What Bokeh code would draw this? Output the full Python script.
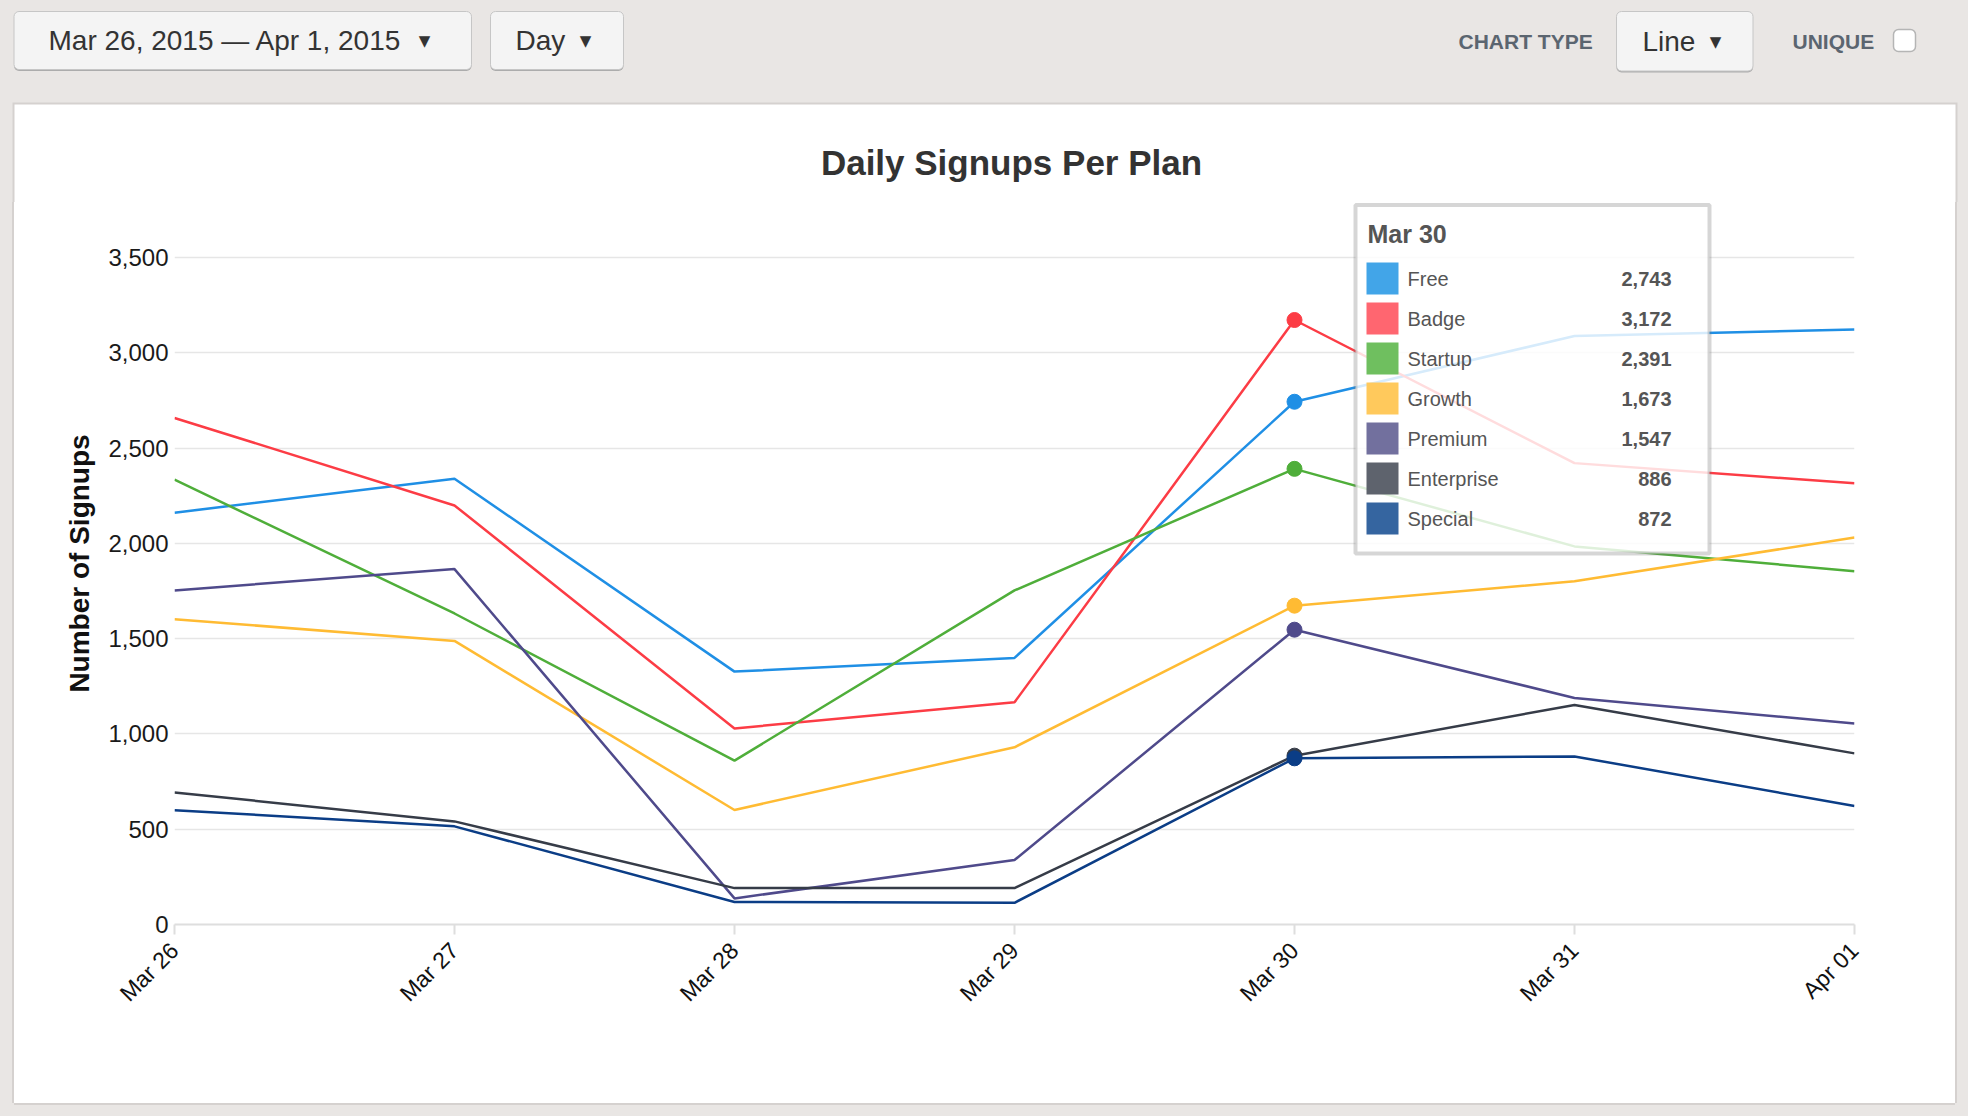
import math
from bokeh.plotting import figure
from bokeh.models import Range1d, FixedTicker, NumeralTickFormatter, BoxAnnotation, Label, ColumnDataSource
from bokeh.embed import file_html
from bokeh.resources import INLINE
from bokeh.core.properties import value

# ---------------- data ----------------
dates = ["Mar 26", "Mar 27", "Mar 28", "Mar 29", "Mar 30", "Mar 31", "Apr 01"]
plans = ["Free", "Badge", "Startup", "Growth", "Premium", "Enterprise", "Special"]
free = [2161, 2339, 1327, 1399, 2743, 3088, 3122]
badge = [2658, 2199, 1029, 1166, 3172, 2421, 2315]
startup = [2334, 1632, 860, 1753, 2391, 1984, 1854]
growth = [1602, 1488, 601, 930, 1673, 1801, 2031]
premium = [1753, 1865, 137, 338, 1547, 1189, 1055]
enterprise = [693, 541, 191, 191, 886, 1152, 898]
special = [600, 515, 118, 114, 872, 882, 622]
series = [free, badge, startup, growth, premium, enterprise, special]
y_ticks = [0, 500, 1000, 1500, 2000, 2500, 3000, 3500]
hover_index = 4  # Mar 30

colors = ["#1f8fe5", "#fc3c45", "#4fae3a", "#ffbb33", "#4f4a8b", "#363c48", "#0b3d86"]
swatch_colors = ["#42a5e8", "#ff6670", "#6fbf5f", "#ffc95c", "#72709e", "#5e636d", "#3565a0"]

FONT = "Liberation Sans"
PAGE_BG = "#e9e6e4"
CARD_BORDER = "#d5d1cf"

# ---------------- top: control bar + card header (page pixel coordinates) ----------------
TOP_H = 202
top = figure(width=1968, height=TOP_H, x_range=Range1d(0, 1968), y_range=Range1d(TOP_H, 0),
             toolbar_location=None, output_backend="svg", title=None,
             x_axis_location=None, y_axis_location=None, min_border=0)
top.grid.visible = False
top.outline_line_color = None
top.background_fill_color = PAGE_BG
top.border_fill_color = PAGE_BG

# card header part (white, with border on top/left/right)
top.quad(left=[12], right=[1957], top=[102], bottom=[TOP_H + 2], fill_color=CARD_BORDER, line_color=None)
top.quad(left=[14], right=[1955], top=[104], bottom=[TOP_H + 2], fill_color="#ffffff", line_color=None)

btn_l = [13.5, 490, 1616]
btn_r = [471, 623, 1752.5]
btn_t = [11, 11, 11]
btn_b = [69, 69, 70.5]
top.quad(left=btn_l, right=btn_r, top=[t + 1.5 for t in btn_t], bottom=[b + 1.5 for b in btn_b],
         fill_color="#acacac", line_color=None, border_radius=5)
top.quad(left=btn_l, right=btn_r, top=btn_t, bottom=btn_b,
         fill_color="#f4f4f4", line_color="#c6c6c6", line_width=1, border_radius=5)
top.quad(left=[1893], right=[1915], top=[29], bottom=[51],
         fill_color="#ffffff", line_color="#b5b5b5", line_width=1.5, border_radius=5)

top.text(x=[48, 515, 1642], y=[40, 40, 41],
         text=["Mar 26, 2015 \u2014 Apr 1, 2015", "Day", "Line"],
         text_font=value(FONT), text_font_size="28px", text_color="#333333",
         text_baseline="middle", text_align="left")
top.text(x=[424, 585, 1715], y=[40, 40, 41], text=["\u25bc", "\u25bc", "\u25bc"],
         text_font=value("DejaVu Sans"), text_font_size="15px", text_color="#333333",
         text_baseline="middle", text_align="center")
top.text(x=[1458, 1792], y=[41, 41], text=["CHART TYPE", "UNIQUE"],
         text_font=value(FONT), text_font_size="21px", text_font_style="bold",
         text_color="#5b6570", text_baseline="middle", text_align="left")
top.text(x=[1011], y=[162], text=["Daily Signups Per Plan"],
         text_font=value(FONT), text_font_size="35px", text_font_style="bold",
         text_color="#333333", text_baseline="middle", text_align="center")

# ---------------- chart card body ----------------
FX0, FX1 = 174, 1854   # page px of Mar 26 / Apr 01
FY_TOP, FY0, FY1 = TOP_H, 257, 924   # frame top, 3500 line, 0 line
Y_END = y_ticks[-1] * (FY1 - FY_TOP) / (FY1 - FY0)

def px2x(px):
    return (px - FX0) / (FX1 - FX0) * (len(dates) - 1)

def py2y(py):
    return (FY1 - py) / (FY1 - FY0) * y_ticks[-1]

p = figure(width=1941, height=1103 - TOP_H,
           x_range=Range1d(0, len(dates) - 1), y_range=Range1d(0, Y_END),
           toolbar_location=None, output_backend="svg", title=None,
           min_border_left=160, min_border_right=101, min_border_top=0, min_border_bottom=179,
           margin=(0, 0, 0, 14))
p.styles = {"box-shadow": f"-2px 0 0 0 {CARD_BORDER}, 2px 0 0 0 {CARD_BORDER}, 0 2px 0 0 {CARD_BORDER}",
            "background-color": "#ffffff"}
p.outline_line_color = None
p.background_fill_color = "#ffffff"
p.border_fill_color = "#ffffff"

p.xgrid.visible = False
p.ygrid.grid_line_color = "#e6e6e6"
p.ygrid.grid_line_width = 1.5

p.xaxis.ticker = FixedTicker(ticks=list(range(len(dates))))
p.xaxis.major_label_overrides = {i: d for i, d in enumerate(dates)}
p.xaxis.major_label_orientation = math.pi / 4
p.xaxis.major_label_text_font = FONT
p.xaxis.major_label_text_font_size = "23px"
p.xaxis.major_label_text_color = "#111111"
p.xaxis.major_label_standoff = 12
p.xaxis.axis_line_color = "#dedede"
p.xaxis.axis_line_width = 2
p.xaxis.major_tick_line_color = "#dedede"
p.xaxis.major_tick_line_width = 2
p.xaxis.major_tick_out = 10
p.xaxis.major_tick_in = 0
p.xaxis.minor_tick_line_color = None

p.yaxis.ticker = FixedTicker(ticks=y_ticks)
p.yaxis.formatter = NumeralTickFormatter(format="0,0")
p.yaxis.major_label_text_font = FONT
p.yaxis.major_label_text_font_size = "24px"
p.yaxis.major_label_text_color = "#1a1a1a"
p.yaxis.major_label_standoff = 6
p.yaxis.major_tick_out = 0
p.yaxis.major_tick_in = 0
p.yaxis.axis_line_color = None
p.yaxis.major_tick_line_color = None
p.yaxis.minor_tick_line_color = None
p.yaxis.axis_label = "Number of Signups"
p.yaxis.axis_label_text_font = FONT
p.yaxis.axis_label_text_font_size = "28px"
p.yaxis.axis_label_text_font_style = "bold"
p.yaxis.axis_label_text_color = "#111111"
p.yaxis.axis_label_standoff = 10

src = ColumnDataSource(dict(x=list(range(len(dates))), **{n: s for n, s in zip(plans, series)}))
for name, col in zip(plans, colors):
    p.line(x="x", y=name, source=src, line_color=col, line_width=2.5)

p.scatter(x=[hover_index] * len(plans), y=[s[hover_index] for s in series],
          size=15, fill_color=colors, line_color=colors, line_width=1)

# tooltip
tip = BoxAnnotation(left=px2x(1355), right=px2x(1709), top=py2y(204.5), bottom=py2y(553),
                    fill_color="#ffffff", fill_alpha=0.82, line_color="#777777", line_width=4)
p.add_layout(tip)
p.add_layout(Label(x=px2x(1367), y=py2y(233), text=dates[hover_index],
                   text_font=FONT, text_font_size="25px", text_font_style="bold",
                   text_color="#555555", text_baseline="middle"))
for i, (name, s) in enumerate(zip(plans, series)):
    cy = 278 + 40 * i
    p.add_layout(Label(x=px2x(1407), y=py2y(cy), text=name, text_font=FONT,
                       text_font_size="20px", text_color="#555555", text_baseline="middle"))
    p.add_layout(Label(x=px2x(1671), y=py2y(cy), text=f"{s[hover_index]:,}", text_font=FONT,
                       text_font_size="20px", text_font_style="bold", text_color="#555555",
                       text_baseline="middle", text_align="right"))
p.quad(left=[px2x(1366)] * len(plans), right=[px2x(1398)] * len(plans),
       top=[py2y(262 + 40 * i) for i in range(len(plans))],
       bottom=[py2y(294 + 40 * i) for i in range(len(plans))],
       fill_color=swatch_colors, line_color=None, level="overlay")

html = file_html([top, p], INLINE, title="Daily Signups Per Plan")
html = html.replace("<head>", "<head><style>body{background:#e9e6e4;}</style>", 1)
open("out.html", "w").write(html)
